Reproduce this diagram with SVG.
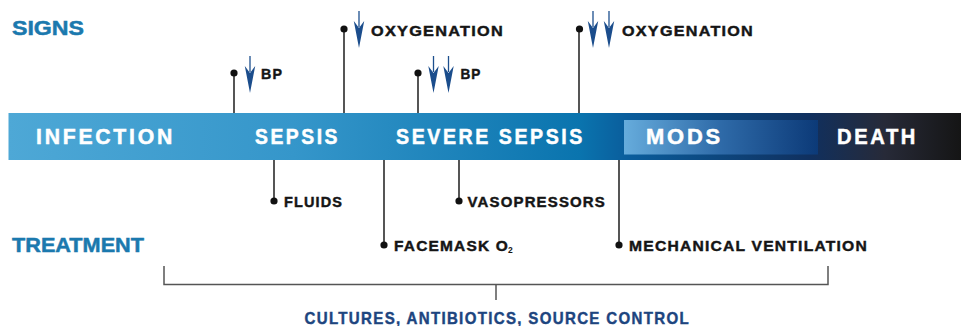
<svg xmlns="http://www.w3.org/2000/svg" xmlns:xlink="http://www.w3.org/1999/xlink" width="961" height="326" viewBox="0 0 961 326">
  <style>
    .hdr { font-family: "Liberation Sans", Arial, sans-serif; font-weight: bold; font-size: 20.5px; fill: #1b79ae; stroke: #1b79ae; stroke-width: 0.5; }
    .stage { font-family: "Liberation Sans", Arial, sans-serif; font-weight: bold; font-size: 21.5px; letter-spacing: 2.8px; fill: #ffffff; stroke: #ffffff; stroke-width: 0.5; }
    .lbl { font-family: "Liberation Sans", Arial, sans-serif; font-weight: bold; font-size: 15.5px; letter-spacing: 1.2px; fill: #151515; stroke: #151515; stroke-width: 0.45; }
    .sub { font-family: "Liberation Sans", Arial, sans-serif; font-weight: bold; font-size: 8.5px; fill: #151515; }
    .foot { font-family: "Liberation Sans", Arial, sans-serif; font-weight: bold; font-size: 17px; letter-spacing: 1.5px; fill: #1d457f; stroke: #1d457f; stroke-width: 0.45; }
    .pin { stroke: #2b2b2b; stroke-width: 1.6; fill: none; }
    .dot { fill: #111111; }
    .brk { stroke: #555555; stroke-width: 1.5; fill: none; }
    .arr-shaft { stroke: #1d4f8e; stroke-width: 1.3; }
    .arr-head { fill: #1b4d8c; }
  </style>
  <defs>
    <linearGradient id="barGrad" gradientUnits="userSpaceOnUse" x1="8" y1="0" x2="961" y2="0">
      <stop offset="0" stop-color="#4ea8d6"/>
      <stop offset="0.3" stop-color="#3596ca"/>
      <stop offset="0.6" stop-color="#0a74ae"/>
      <stop offset="0.65" stop-color="#0a5d9c"/>
      <stop offset="0.84" stop-color="#10305f"/>
      <stop offset="0.92" stop-color="#272a38"/>
      <stop offset="1" stop-color="#151515"/>
    </linearGradient>
    <linearGradient id="modsGrad" gradientUnits="userSpaceOnUse" x1="624" y1="0" x2="818" y2="0">
      <stop offset="0" stop-color="#66acdc"/>
      <stop offset="0.5" stop-color="#2e6aa8"/>
      <stop offset="1" stop-color="#0c3a78"/>
    </linearGradient>
    <g id="arrow">
      <line class="arr-shaft" x1="0" y1="0" x2="0" y2="16"/>
      <path class="arr-head" d="M-5.2,10 L0,17 L5.2,10 L0,37 Z"/>
    </g>
  </defs>

  <rect width="961" height="326" fill="#ffffff"/>

  <g id="headers">
    <text class="hdr" x="12" y="35" textLength="72" lengthAdjust="spacingAndGlyphs">SIGNS</text>
    <text class="hdr" x="12" y="251.5" textLength="132" lengthAdjust="spacingAndGlyphs">TREATMENT</text>
  </g>

  <g id="timeline">
    <rect x="8.5" y="113" width="952.5" height="47" fill="url(#barGrad)"/>
    <rect id="mods-box" x="624" y="120" width="194" height="34.5" fill="url(#modsGrad)"/>
  </g>

  <g id="stage-infection"><text class="stage" x="36" y="144.3" textLength="139" lengthAdjust="spacingAndGlyphs">INFECTION</text></g>
  <g id="stage-sepsis"><text class="stage" x="255" y="144.3" textLength="85" lengthAdjust="spacingAndGlyphs">SEPSIS</text></g>
  <g id="stage-severe-sepsis"><text class="stage" x="396" y="144.3" textLength="189" lengthAdjust="spacingAndGlyphs">SEVERE SEPSIS</text></g>
  <g id="stage-mods"><text class="stage" x="646" y="144.3" textLength="77" lengthAdjust="spacingAndGlyphs">MODS</text></g>
  <g id="stage-death"><text class="stage" x="837" y="144.3" textLength="81" lengthAdjust="spacingAndGlyphs">DEATH</text></g>

  <g id="connectors">
    <line class="pin" x1="234" y1="73" x2="234" y2="113"/>
    <line class="pin" x1="344" y1="29" x2="344" y2="113"/>
    <line class="pin" x1="418" y1="73" x2="418" y2="113"/>
    <line class="pin" x1="579" y1="29" x2="579" y2="113"/>
    <line class="pin" x1="274" y1="160" x2="274" y2="201"/>
    <line class="pin" x1="384" y1="160" x2="384" y2="245"/>
    <line class="pin" x1="459" y1="160" x2="459" y2="201"/>
    <line class="pin" x1="619" y1="160" x2="619" y2="245"/>
    <path class="brk" d="M164,266 V284.5 H828 V266"/>
    <line class="brk" x1="496" y1="284.5" x2="496" y2="300"/>
  </g>

  <g id="sign-bp">
    <circle class="dot" cx="234" cy="73" r="3.6"/>
    <use xlink:href="#arrow" href="#arrow" x="250" y="56"/>
    <text class="lbl" x="261" y="79" textLength="22" lengthAdjust="spacingAndGlyphs">BP</text>
  </g>
  <g id="sign-oxygenation">
    <circle class="dot" cx="344" cy="29" r="3.6"/>
    <use xlink:href="#arrow" href="#arrow" x="359" y="11"/>
    <text class="lbl" x="371" y="36" textLength="133" lengthAdjust="spacingAndGlyphs">OXYGENATION</text>
  </g>
  <g id="sign-bp2">
    <circle class="dot" cx="418" cy="73" r="3.6"/>
    <use xlink:href="#arrow" href="#arrow" x="433.5" y="56"/>
    <use xlink:href="#arrow" href="#arrow" x="448.5" y="56"/>
    <text class="lbl" x="460.5" y="79" textLength="21" lengthAdjust="spacingAndGlyphs">BP</text>
  </g>
  <g id="sign-oxygenation2">
    <circle class="dot" cx="579.5" cy="29" r="3.6"/>
    <use xlink:href="#arrow" href="#arrow" x="593" y="11"/>
    <use xlink:href="#arrow" href="#arrow" x="609" y="11"/>
    <text class="lbl" x="622" y="36" textLength="132" lengthAdjust="spacingAndGlyphs">OXYGENATION</text>
  </g>

  <g id="treat-fluids">
    <circle class="dot" cx="274" cy="201" r="3.6"/>
    <text class="lbl" x="284" y="207" textLength="59" lengthAdjust="spacingAndGlyphs">FLUIDS</text>
  </g>
  <g id="treat-vasopressors">
    <circle class="dot" cx="459" cy="201" r="3.6"/>
    <text class="lbl" x="467.5" y="207" textLength="138.5" lengthAdjust="spacingAndGlyphs">VASOPRESSORS</text>
  </g>
  <g id="treat-facemask">
    <circle class="dot" cx="384" cy="245" r="3.6"/>
    <text class="lbl" x="394" y="251" textLength="115" lengthAdjust="spacingAndGlyphs">FACEMASK O</text>
    <text class="sub" x="508" y="252.5">2</text>
  </g>
  <g id="treat-mechanical">
    <circle class="dot" cx="619" cy="245" r="3.6"/>
    <text class="lbl" x="629" y="251" textLength="239" lengthAdjust="spacingAndGlyphs">MECHANICAL VENTILATION</text>
  </g>

  <g id="treat-all">
    <text class="foot" x="304.5" y="323.5" textLength="385.5" lengthAdjust="spacingAndGlyphs">CULTURES, ANTIBIOTICS, SOURCE CONTROL</text>
  </g>
</svg>
